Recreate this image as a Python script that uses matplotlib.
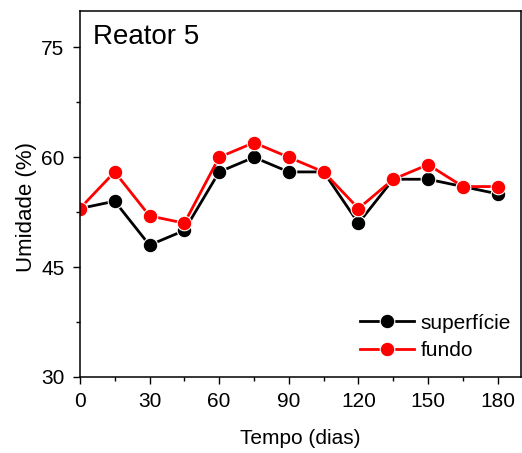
import matplotlib.pyplot as plt
from matplotlib.ticker import MultipleLocator

plt.rcParams['font.family'] = ['Liberation Sans', 'DejaVu Sans']

dias = [0, 15, 30, 45, 60, 75, 90, 105, 120, 135, 150, 165, 180]
superficie = [53, 54, 48, 50, 58, 60, 58, 58, 51, 57, 57, 56, 55]
fundo = [53, 58, 52, 51, 60, 62, 60, 58, 53, 57, 59, 56, 56]

fig = plt.figure(figsize=(5.22, 4.53), dpi=100)
ax = fig.add_axes([0.153, 0.168, 0.845, 0.808])

ax.plot(dias, superficie, color='black', lw=2, marker='o', ms=10.5,
        mec='white', mew=0.8, label='superfície')
ax.plot(dias, fundo, color='red', lw=2, marker='o', ms=10.5,
        mec='white', mew=0.8, label='fundo')

ax.set_xlim(0, 190)
ax.set_ylim(30, 80)
ax.xaxis.set_major_locator(MultipleLocator(30))
ax.xaxis.set_minor_locator(MultipleLocator(15))
ax.yaxis.set_major_locator(MultipleLocator(15))
ax.yaxis.set_minor_locator(MultipleLocator(7.5))
ax.tick_params(which='major', length=5, width=1, labelsize=15, pad=6)
ax.tick_params(which='minor', length=3, width=1)
for s in ax.spines.values():
    s.set_linewidth(1.1)

ax.set_xlabel('Tempo (dias)', fontsize=15, labelpad=13)
ax.set_ylabel('Umidade (%)', fontsize=16, labelpad=3, y=0.465)
ax.text(0.03, 0.965, 'Reator 5', transform=ax.transAxes, fontsize=20,
        va='top', ha='left')

ax.legend(loc='lower right', frameon=False, fontsize=15, handlelength=2.6,
          handletextpad=0.3, labelspacing=0.4, bbox_to_anchor=(1.02, -0.005))

fig.savefig('out.png', dpi=100)
